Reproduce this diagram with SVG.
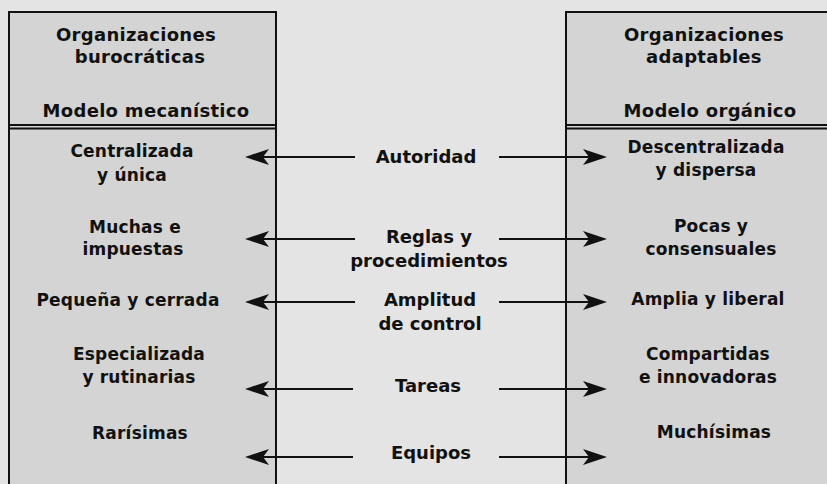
<svg xmlns="http://www.w3.org/2000/svg" width="827" height="484" viewBox="0 0 827 484">
<style>
text{font-family:"DejaVu Sans","Liberation Sans",sans-serif;font-weight:bold;font-size:17px;fill:#111;text-anchor:middle;letter-spacing:0.2px}
.h{font-size:18px;letter-spacing:0.3px}
.m{font-size:18px;letter-spacing:0}
.box{fill:#d4d4d4;stroke:#111;stroke-width:2}
.ln{stroke:#111;stroke-width:2;fill:none}
.arr{stroke:#111;stroke-width:2;fill:none;marker-end:url(#ah)}
</style>
<defs>
<marker id="ah" viewBox="0 0 24 16" refX="14" refY="8" markerWidth="24" markerHeight="16" markerUnits="userSpaceOnUse" orient="auto">
<path d="M0,0 L24,8 L0,16 L6,8 Z" fill="#111"/>
</marker>
</defs>
<rect x="0" y="0" width="827" height="484" fill="#e4e4e4"/>
<g id="left-box">
<rect class="box" x="9" y="12" width="267" height="480"/>
<line class="ln" x1="9" y1="125" x2="276" y2="125"/>
<line class="ln" x1="9" y1="128.5" x2="276" y2="128.5" stroke-width="1.5"/>
<text class="h" x="136" y="41">Organizaciones</text>
<text class="h" x="140" y="63">burocráticas</text>
<text class="h" x="146" y="117">Modelo mecanístico</text>
</g>
<g id="right-box">
<rect class="box" x="566" y="12" width="270" height="480"/>
<line class="ln" x1="566" y1="125" x2="827" y2="125"/>
<line class="ln" x1="566" y1="128.5" x2="827" y2="128.5" stroke-width="1.5"/>
<text class="h" x="704" y="41">Organizaciones</text>
<text class="h" x="704" y="63">adaptables</text>
<text class="h" x="710" y="117">Modelo orgánico</text>
</g>
<g id="left-items">
<text x="132" y="157">Centralizada</text>
<text x="132" y="181">y única</text>
<text x="135" y="233">Muchas e</text>
<text x="133" y="255">impuestas</text>
<text x="128" y="306">Pequeña y cerrada</text>
<text x="139" y="360">Especializada</text>
<text x="139" y="383">y rutinarias</text>
<text x="140" y="439">Rarísimas</text>
</g>
<g id="right-items">
<text x="706" y="153">Descentralizada</text>
<text x="706" y="176">y dispersa</text>
<text x="711" y="232">Pocas y</text>
<text x="711" y="255">consensuales</text>
<text x="708" y="305">Amplia y liberal</text>
<text x="708" y="360">Compartidas</text>
<text x="708" y="383">e innovadoras</text>
<text x="714" y="438">Muchísimas</text>
</g>
<g id="middle-labels">
<text class="m" x="426" y="163">Autoridad</text>
<text class="m" x="429" y="243">Reglas y</text>
<text class="m" x="429" y="267">procedimientos</text>
<text class="m" x="430" y="306">Amplitud</text>
<text class="m" x="430" y="330">de control</text>
<text class="m" x="428" y="392">Tareas</text>
<text class="m" x="431" y="459">Equipos</text>
</g>
<g id="connectors">
<line class="arr" x1="355" y1="157" x2="255" y2="157"/>
<line class="arr" x1="499" y1="157" x2="597" y2="157"/>
<line class="arr" x1="355" y1="239" x2="255" y2="239"/>
<line class="arr" x1="499" y1="239" x2="597" y2="239"/>
<line class="arr" x1="355" y1="302" x2="255" y2="302"/>
<line class="arr" x1="499" y1="302" x2="597" y2="302"/>
<line class="arr" x1="353" y1="389" x2="255" y2="389"/>
<line class="arr" x1="499" y1="389" x2="597" y2="389"/>
<line class="arr" x1="353" y1="457" x2="255" y2="457"/>
<line class="arr" x1="499" y1="457" x2="597" y2="457"/>
</g>
</svg>
